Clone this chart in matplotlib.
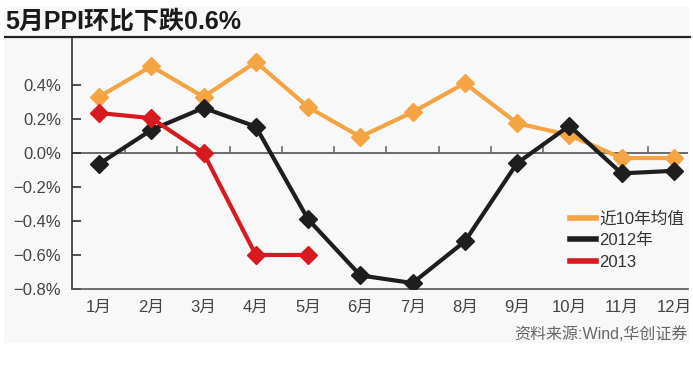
import matplotlib
matplotlib.use("Agg")
import matplotlib.pyplot as plt
from matplotlib.lines import Line2D
from matplotlib.patches import Rectangle
from matplotlib.ticker import FuncFormatter

plt.rcParams['font.family'] = ['Liberation Sans', 'Noto Sans CJK SC', 'DejaVu Sans']

months = ["1月", "2月", "3月", "4月", "5月", "6月", "7月", "8月", "9月", "10月", "11月", "12月"]
avg10 = [0.33, 0.51, 0.33, 0.535, 0.27, 0.095, 0.24, 0.41, 0.175, 0.105, -0.03, -0.03]
y2012 = [-0.065, 0.135, 0.265, 0.155, -0.39, -0.72, -0.765, -0.52, -0.06, 0.16, -0.12, -0.105]
y2013 = [0.235, 0.205, 0.0, -0.6, -0.6]
yticks = [0.4, 0.2, 0.0, -0.2, -0.4, -0.6, -0.8]
series_labels = ["近10年均值", "2012年", "2013"]
title = "5月PPI环比下跌0.6%"
source = "资料来源:Wind,华创证券"

c_orange = "#F5A443"
c_black = "#1E1E1E"
c_red = "#D71920"

W, H = 693, 377
fig = plt.figure(figsize=(W / 100, H / 100), dpi=100)
fig.patch.set_facecolor("white")

# panel background
fig.patches.append(Rectangle((4 / W, 1 - 343 / H), (689 - 4) / W, (343 - 7) / H,
                             transform=fig.transFigure, facecolor="#F8F8F8",
                             edgecolor="none", zorder=-10))
# title and rule
fig.text(5 / W, 1 - 21 / H, title, fontsize=18, fontweight="bold", color="#1a1a1a",
         ha="left", va="center")
fig.add_artist(Line2D([5 / W, 690 / W], [1 - 37 / H, 1 - 37 / H], transform=fig.transFigure,
                      color="#222222", lw=1.6))

ax = fig.add_axes([72 / W, 1 - 289 / H, (688 - 72) / W, (289 - 37) / H])
ax.set_facecolor("none")
x = list(range(len(months)))
ax.set_xlim(-0.517, 11.27)
ax.set_ylim(-0.8, 0.682)

ax.axhline(0, color="#6a6a6a", lw=1.4, zorder=1)
for t in range(len(months) - 1):
    ax.plot([t + 0.5, t + 0.5], [0, 0.036], color="#6a6a6a", lw=1.2, zorder=1)

ms = 9.5
ax.plot(x, avg10, color=c_orange, lw=3, marker="D", ms=ms, zorder=3)
ax.plot(x, y2012, color=c_black, lw=3, marker="D", ms=ms, zorder=4)
ax.plot(x[:len(y2013)], y2013, color=c_red, lw=3, marker="D", ms=ms, zorder=5)

for s in ["top", "right"]:
    ax.spines[s].set_visible(False)
ax.spines["left"].set_color("#333333")
ax.spines["bottom"].set_color("#555555")
ax.spines["left"].set_linewidth(1.2)
ax.spines["bottom"].set_linewidth(1.2)

ax.set_yticks(yticks)
ax.yaxis.set_major_formatter(FuncFormatter(lambda v, p: f"{v:.1f}%".replace("-", "\u2212")))
ax.tick_params(axis="y", direction="in", length=6.5, width=1.2, color="#333333",
               pad=8, labelsize=12, labelcolor="#444444")
ax.set_xticks(x)
ax.set_xticklabels(months)
ax.tick_params(axis="x", length=0, pad=8, labelsize=12, labelcolor="#444444")

handles = [Line2D([], [], color=c, lw=4) for c in (c_orange, c_black, c_red)]
fig.legend(handles, series_labels, loc="upper left", bbox_to_anchor=(570 / W, 1 - 211 / H),
           frameon=False, fontsize=12, handlelength=1.55, handletextpad=0.2,
           labelspacing=0.4, borderpad=0, borderaxespad=0, labelcolor="#333333")

fig.text(688 / W, 1 - 334 / H, source, fontsize=11.5, color="#666666", ha="right", va="center")

fig.savefig("out.png", dpi=100)
